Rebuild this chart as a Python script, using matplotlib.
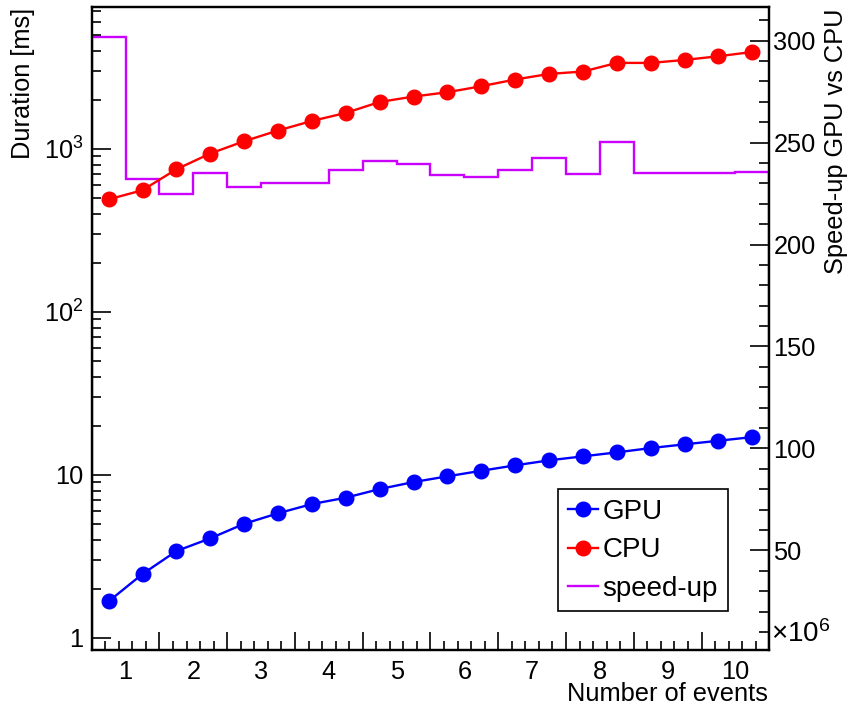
import numpy as np
import matplotlib
matplotlib.use('Agg')
import matplotlib.pyplot as plt
from matplotlib.ticker import FixedLocator, FixedFormatter, NullFormatter, MultipleLocator

plt.rcParams['font.family'] = ['Liberation Sans', 'DejaVu Sans']
plt.rcParams['mathtext.fontset'] = 'custom'
plt.rcParams['mathtext.rm'] = 'Liberation Sans'
plt.rcParams['mathtext.it'] = 'Liberation Sans:italic'

# data, x in millions of events
events = [0.75, 1.25, 1.75, 2.25, 2.75, 3.25, 3.75, 4.25, 4.75, 5.25,
          5.75, 6.25, 6.75, 7.25, 7.75, 8.25, 8.75, 9.25, 9.75, 10.25]
gpu_ms = [1.67, 2.46, 3.40, 4.07, 5.00, 5.80, 6.61, 7.23, 8.17, 9.02,
          9.78, 10.58, 11.42, 12.26, 12.97, 13.72, 14.58, 15.37, 16.17, 17.03]
cpu_ms = [490, 558, 750, 937, 1115, 1297, 1485, 1663, 1942, 2096,
          2228, 2426, 2667, 2886, 2985, 3372, 3372, 3516, 3706, 3936]
bin_edges = [0.5, 1.0, 1.5, 2.0, 2.5, 3.0, 3.5, 4.0, 4.5, 5.0, 5.5,
             6.0, 6.5, 7.0, 7.5, 8.0, 8.5, 9.0, 9.5, 10.0, 10.5]
speedup = [301.5, 232.3, 225.0, 234.9, 228.3, 230.4, 230.4, 236.6, 241.0, 239.3,
           234.0, 233.3, 236.6, 242.3, 234.8, 250.4, 234.9, 235.3, 235.3, 235.4]

fs = 18.3
W, H = 848, 709
fig = plt.figure(figsize=(W / 100, H / 100), dpi=100)
ax = fig.add_axes([91.7 / W, 1 - 650 / H, (769.3 - 91.7) / W, (650 - 7.3) / H])

l_gpu, = ax.plot(events, gpu_ms, color='#0000ff', linewidth=1.7, marker='o',
                 markersize=10.5, label='GPU', zorder=5)
l_cpu, = ax.plot(events, cpu_ms, color='#ff0000', linewidth=1.7, marker='o',
                 markersize=10.5, label='CPU', zorder=5)
ax.set_yscale('log')
ax.set_xlim(0.5, 10.5)
ax.set_ylim(0.84, 7400)

for s in ax.spines.values():
    s.set_linewidth(1.6)

# left log axis
ax.yaxis.set_major_locator(FixedLocator([1, 10, 100, 1000]))
ax.yaxis.set_major_formatter(FixedFormatter(['1', '10', r'$\mathregular{10^{2}}$',
                                             r'$\mathregular{10^{3}}$']))
minors = [m * 10 ** d for d in range(0, 4) for m in range(2, 10)]
ax.yaxis.set_minor_locator(FixedLocator(minors))
ax.yaxis.set_minor_formatter(NullFormatter())
ax.tick_params(axis='y', which='major', direction='in', length=14, width=1.2,
               labelsize=fs, pad=6, right=False)
ax.tick_params(axis='y', which='minor', direction='in', length=6.5, width=1.2,
               right=False)

# bottom axis: tall ticks at bin edges, labels at integers
ax.xaxis.set_major_locator(FixedLocator(np.arange(1.5, 10.6, 1.0)))
ax.xaxis.set_major_formatter(NullFormatter())
ax.xaxis.set_minor_locator(FixedLocator(np.arange(0.7, 10.5, 0.2)))
ax.tick_params(axis='x', which='major', direction='in', length=13, width=1.2, top=False)
ax.tick_params(axis='x', which='minor', direction='in', length=6.5, width=1.2, top=False)
sec = ax.secondary_xaxis('bottom')
sec.set_xticks(range(1, 11))
sec.tick_params(length=0, labelsize=fs, pad=7)
sec.spines['bottom'].set_visible(False)

# right axis: speed-up histogram
ax2 = ax.twinx()
ax2.stairs(speedup, bin_edges, color='#cc00ff', linewidth=1.7, zorder=3)
ax2.set_ylim(1.2, 316.3)
ax2.yaxis.set_major_locator(MultipleLocator(50))
ax2.yaxis.set_minor_locator(MultipleLocator(10))
ax2.tick_params(axis='y', which='major', direction='in', length=14, width=1.2,
                labelsize=fs, pad=3)
ax2.tick_params(axis='y', which='minor', direction='in', length=7, width=1.2)
for s in ax2.spines.values():
    s.set_linewidth(1.6)
ax.set_zorder(ax2.get_zorder() + 1)
ax.patch.set_visible(False)

fig.text(23 / W, 1 - 8 / H, 'Duration [ms]', rotation=90, ha='center', va='top',
         fontsize=fs)
fig.text(836 / W, 1 - 8 / H, 'Speed-up GPU vs CPU', rotation=90, ha='center',
         va='top', fontsize=fs)
fig.text(768 / W, 1 - 694 / H, 'Number of events', ha='right', va='center',
         fontsize=fs)
fig.text(771 / W, 1 - 634 / H, r'$\mathregular{\times 10^{6}}$', ha='left',
         va='center', fontsize=20)

l_sp, = ax.plot([], [], color='#cc00ff', linewidth=1.7, label='speed-up')
leg = ax.legend(handles=[l_gpu, l_cpu, l_sp], loc='upper left',
                bbox_to_anchor=(558 / W, 1 - 489 / H), bbox_transform=fig.transFigure,
                fontsize=20, frameon=True, fancybox=False, framealpha=1,
                edgecolor='black', borderaxespad=0, borderpad=0.35,
                handlelength=1.1, handletextpad=0.15, labelspacing=0.45)
leg.get_frame().set_linewidth(1.2)

fig.savefig('out.png', dpi=100)
